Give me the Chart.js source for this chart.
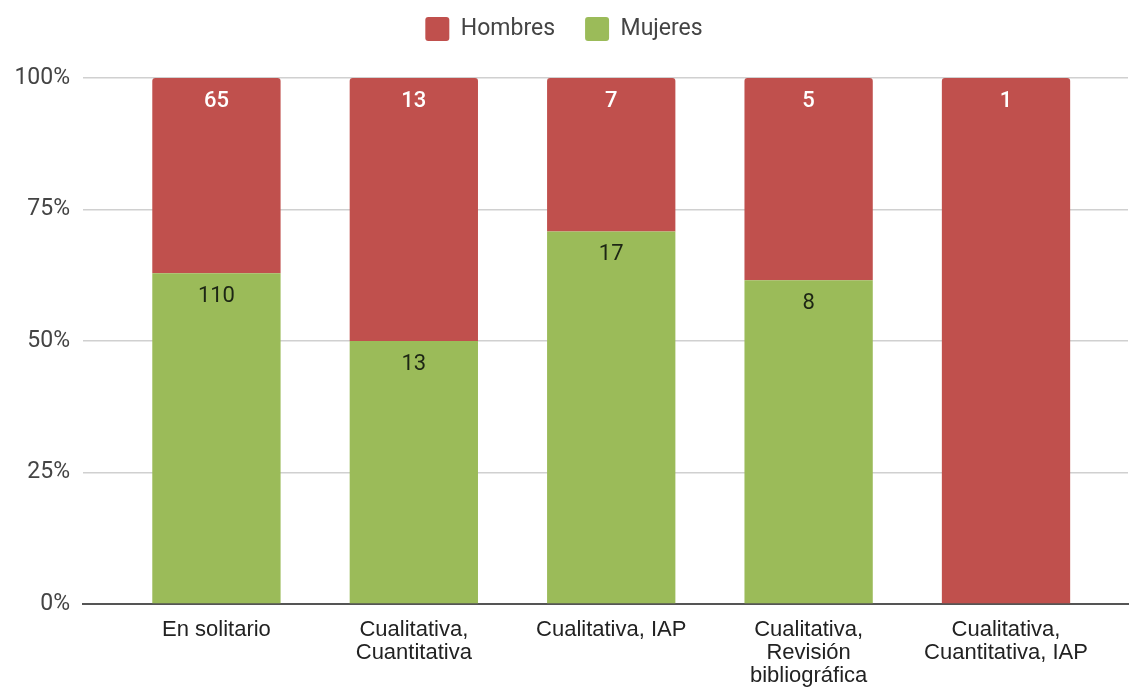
<!DOCTYPE html>
<html>
<head>
<meta charset="utf-8">
<script src="https://cdn.jsdelivr.net/npm/chart.js@4.4.1/dist/chart.umd.min.js"></script>
<style>
  html, body { margin: 0; padding: 0; background: #fff; }
  #wrap { width: 1129px; height: 687px; }
</style>
</head>
<body>
<div id="wrap"><canvas id="chart"></canvas></div>
<script>
// categories and counts
const categories = [
  ['En solitario'],
  ['Cualitativa,', 'Cuantitativa'],
  ['Cualitativa, IAP'],
  ['Cualitativa,', 'Revisión', 'bibliográfica'],
  ['Cualitativa,', 'Cuantitativa, IAP']
];
const hombres = [65, 13, 7, 5, 1];
const mujeres = [110, 13, 17, 8, 0];
const yTicks = [0, 0.25, 0.5, 0.75, 1];

const RED = '#c0504d';
const GREEN = '#9bbb59';

// 100% stacked: shares of each column total
const totals = hombres.map((h, i) => h + mujeres[i]);
const share = arr => arr.map((v, i) => ({ x: i, y: totals[i] ? v / totals[i] : 0, n: v }));

// count labels just inside the top of every segment
const countLabels = {
    id: 'countLabels',
    afterDatasetsDraw(chart) {
        const ctx = chart.ctx;
        ctx.save();
        ctx.textAlign = 'center';
        ctx.textBaseline = 'middle';
        chart.data.datasets.forEach((ds, di) => {
            const meta = chart.getDatasetMeta(di);
            ctx.font = ds.labelFont;
            meta.data.forEach((bar, i) => {
                const n = ds.data[i].n;
                if (!n) return;
                ctx.fillStyle = ds.labelColor;
                ctx.fillText(String(n), bar.x, bar.y + 23);
            });
        });
        ctx.restore();
    }
};

// legend block takes the space above the plot
const legendHeight = {
    id: 'legendHeight',
    beforeInit(chart) {
        const fit = chart.legend.fit;
        chart.legend.fit = function () {
            fit.bind(chart.legend)();
            this.height = 91;
        };
    }
};

new Chart(document.getElementById('chart'), {
    type: 'bar',
    data: {
        datasets: [
            {
                label: 'Mujeres',
                data: share(mujeres),
                backgroundColor: GREEN,
                labelColor: '#1d2614',
                labelFont: '22px Roboto',
                borderRadius: 3,
                borderSkipped: 'start',
                categoryPercentage: 1,
                barPercentage: 0.65,
                order: 1
            },
            {
                label: 'Hombres',
                data: share(hombres),
                backgroundColor: RED,
                labelColor: '#ffffff',
                labelFont: '500 22px Roboto',
                borderRadius: 3,
                borderSkipped: 'start',
                categoryPercentage: 1,
                barPercentage: 0.65,
                order: 2
            }
        ]
    },
    options: {
        responsive: true,
        maintainAspectRatio: false,
        animation: false,
        layout: { padding: { left: 0, right: 1, top: -13, bottom: 0 } },
        plugins: {
            tooltip: { enabled: false },
            legend: {
                position: 'top',
                reverse: true,
                labels: {
                    color: '#444',
                    font: { family: 'Roboto', size: 23 },
                    boxWidth: 24,
                    boxHeight: 24,
                    useBorderRadius: true,
                    borderRadius: 3,
                    padding: 30
                }
            }
        },
        scales: {
            x: {
                type: 'linear',
                stacked: true,
                offset: false,
                min: -0.676,
                max: 4.618,
                afterBuildTicks: s => { s.ticks = categories.map((_, i) => ({ value: i })); },
                afterFit: s => { s.height = 83; },
                grid: { display: false, drawTicks: false },
                border: { display: true, color: '#555', width: 2 },
                ticks: {
                    color: '#222',
                    padding: 14,
                    autoSkip: false,
                    maxRotation: 0,
                    font: { family: 'Liberation Sans', size: 22, lineHeight: 1.05 },
                    callback: v => categories[v] || ''
                }
            },
            y: {
                stacked: true,
                min: 0,
                max: 1,
                afterBuildTicks: s => { s.ticks = yTicks.map(v => ({ value: v })); },
                afterFit: s => { s.width = 83; },
                grid: { color: '#d0d0d0', lineWidth: 1.5, drawTicks: false },
                border: { display: false },
                ticks: {
                    color: '#444',
                    padding: 13,
                    font: { family: 'Roboto', size: 23 },
                    callback: v => Math.round(v * 100) + '%'
                }
            }
        }
    },
    plugins: [legendHeight, countLabels]
});
</script>
</body>
</html>
